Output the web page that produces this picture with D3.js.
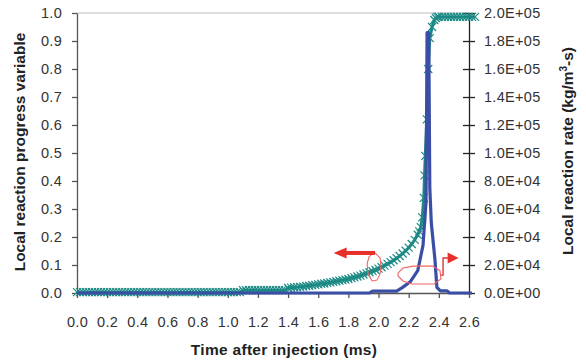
<!DOCTYPE html>
<html>
<head>
<meta charset="utf-8">
<script src="https://cdn.jsdelivr.net/npm/d3@7"></script>
<style>
  body { margin: 0; background: #fff; }
  text { font-family: "Liberation Sans", Arial, sans-serif; }
</style>
</head>
<body>
<script>
// progress variable samples (time in ms)
const progTime = [
  0.00,0.02,0.04,0.06,0.08,0.10,0.12,0.14,0.16,0.18,0.20,0.22,0.24,0.26,0.28,0.30,0.32,0.34,0.36,0.38,
  0.40,0.42,0.44,0.46,0.48,0.50,0.52,0.54,0.56,0.58,0.60,0.62,0.64,0.66,0.68,0.70,0.72,0.74,0.76,0.78,
  0.80,0.82,0.84,0.86,0.88,0.90,0.92,0.94,0.96,0.98,1.00,1.02,1.04,1.06,1.08,1.10,1.12,1.14,1.16,1.18,
  1.20,1.22,1.24,1.26,1.28,1.30,1.32,1.34,1.36,1.38,1.40,1.42,1.44,1.46,1.48,1.50,1.52,1.54,1.56,1.58,
  1.60,1.62,1.64,1.66,1.68,1.70,1.72,1.74,1.76,1.78,1.80,1.82,1.84,1.86,1.88,1.90,1.92,1.94,1.96,1.98,
  2.00,2.02,2.04,2.06,2.08,2.10,2.12,2.14,2.16,2.18,2.20,2.22,2.24,2.26,2.27,2.28,2.29,2.30,2.305,2.31,
  2.32,2.33,2.34,2.355,2.37,2.38,2.39,2.40,2.42,2.44,2.46,2.48,2.50,2.52,2.54,2.56,2.58,2.60,2.62,2.64
];
const progress = [
  0.003,0.003,0.003,0.003,0.003,0.003,0.003,0.003,0.003,0.003,0.003,0.003,0.003,0.003,0.003,0.003,0.003,0.003,0.003,0.003,
  0.003,0.003,0.003,0.003,0.003,0.003,0.003,0.003,0.003,0.003,0.003,0.003,0.003,0.003,0.003,0.003,0.003,0.003,0.003,0.003,
  0.003,0.003,0.003,0.003,0.003,0.003,0.003,0.003,0.003,0.003,0.003,0.003,0.003,0.003,0.003,0.010,0.010,0.010,0.010,0.010,
  0.010,0.010,0.010,0.010,0.010,0.010,0.010,0.010,0.010,0.010,0.018,0.019,0.020,0.021,0.022,0.023,0.025,0.026,0.028,0.029,
  0.031,0.033,0.034,0.036,0.038,0.040,0.042,0.044,0.046,0.048,0.050,0.053,0.056,0.059,0.062,0.066,0.070,0.074,0.078,0.082,
  0.087,0.092,0.098,0.104,0.110,0.117,0.124,0.132,0.141,0.151,0.162,0.175,0.190,0.208,0.220,0.235,0.270,0.340,0.420,0.490,
  0.620,0.800,0.910,0.950,0.975,0.982,0.986,0.986,0.986,0.986,0.986,0.986,0.986,0.986,0.986,0.986,0.986,0.986,0.986,0.986
];

// reaction rate samples (kg/m3-s)
const rateTime = [0.00,1.94,1.96,2.12,2.16,2.21,2.26,2.295,2.315,2.322,2.333,2.34,2.35,2.374,2.387,2.41,2.455,2.47,2.62];
const rate     = [0,0,1400,1400,4000,8000,16000,34000,65000,186000,186000,75000,50000,24000,4000,1500,1500,0,0];

const xTicks = [0.0,0.2,0.4,0.6,0.8,1.0,1.2,1.4,1.6,1.8,2.0,2.2,2.4,2.6];
const yLeftTicks = [0.0,0.1,0.2,0.3,0.4,0.5,0.6,0.7,0.8,0.9,1.0];
const yRightTicks = [0,20000,40000,60000,80000,100000,120000,140000,160000,180000,200000];

// red annotation outlines (time, progress units)
const leftLoop = [[1.977,0.143],[2.010,0.125],[2.016,0.096],[2.010,0.068],[1.990,0.046],[1.957,0.043],[1.931,0.068],[1.924,0.104],[1.937,0.129],[1.957,0.139],[1.977,0.143]];
const rightLoop = [[2.129,0.071],[2.162,0.089],[2.229,0.096],[2.361,0.096],[2.408,0.079],[2.414,0.050],[2.368,0.032],[2.222,0.032],[2.162,0.043],[2.129,0.061],[2.129,0.071]];
const leftArrow = [[1.977,0.143],[1.775,0.143]];
const rightArrow = [[2.414,0.064],[2.428,0.064],[2.428,0.125],[2.465,0.125]];

const width = 586, height = 361;
const svg = d3.select("body").append("svg").attr("width", width).attr("height", height);

const x = d3.scaleLinear().domain([0, 2.6]).range([77, 469]);
const yL = d3.scaleLinear().domain([0, 1]).range([293, 13]);
const yR = d3.scaleLinear().domain([0, 200000]).range([293, 13]);

const sciFmt = d => {
  const [m, e] = d.toExponential(1).split("e");
  const n = Math.abs(+e);
  return m + "E" + (+e < 0 ? "-" : "+") + (n < 10 ? "0" + n : n);
};

// top border
svg.append("line").attr("x1", 77).attr("x2", 469).attr("y1", 13).attr("y2", 13)
  .attr("stroke", "#bbb").attr("stroke-width", 1.2);

// axes
const gx = svg.append("g").attr("transform", "translate(0,293)")
  .call(d3.axisBottom(x).tickValues(xTicks).tickFormat(d3.format(".1f")).tickSize(5).tickPadding(19).tickSizeOuter(0));
const gl = svg.append("g").attr("transform", "translate(77,0)")
  .call(d3.axisLeft(yL).tickValues(yLeftTicks).tickFormat(d3.format(".1f")).tickSize(5).tickPadding(10).tickSizeOuter(0));
const gr = svg.append("g").attr("transform", "translate(469,0)")
  .call(d3.axisRight(yR).tickValues(yRightTicks).tickFormat(sciFmt).tickSize(5).tickPadding(10).tickSizeOuter(0));
gr.selectAll(".tick line").attr("x1", -6).attr("x2", 6);

[gx, gl, gr].forEach(g => {
  g.selectAll("text").attr("font-size", 14.5).attr("fill", "#333")
    .style("letter-spacing", "0.3px")
    .style("font-family", "'Liberation Sans', Arial, sans-serif");
  g.selectAll("line, path").attr("stroke", "#555").attr("stroke-width", 1.3);
});
gr.selectAll("line, path").attr("stroke", "#222");

// progress variable
const progData = progTime.map((t, i) => [t, progress[i]]);
const rateData = rateTime.map((t, i) => [t, rate[i]]);

svg.append("path").datum(progData)
  .attr("fill", "none").attr("stroke", "#1b8a84").attr("stroke-width", 3)
  .attr("d", d3.line().x(d => x(d[0])).y(d => yL(d[1])));

const s = 4;
svg.append("g").selectAll("path").data(progData).join("path")
  .attr("transform", d => `translate(${x(d[0])},${yL(d[1])})`)
  .attr("d", `M${-s},${-s}L${s},${s}M${-s},${s}L${s},${-s}`)
  .attr("stroke", "#1b8a84").attr("stroke-width", 1.2).attr("fill", "none");

// reaction rate
svg.append("path").datum(rateData)
  .attr("fill", "none").attr("stroke", "#3a4ea6").attr("stroke-width", 3.2)
  .attr("stroke-linejoin", "round")
  .attr("d", d3.line().x(d => x(d[0])).y(d => yR(d[1])));

// annotations
const line = d3.line().x(d => x(d[0])).y(d => yL(d[1]));
svg.append("path").datum(leftLoop).attr("d", line)
  .attr("fill", "none").attr("stroke", "#f06464").attr("stroke-width", 1.1);
svg.append("path").datum(rightLoop).attr("d", line)
  .attr("fill", "none").attr("stroke", "#f06464").attr("stroke-width", 1.1);
svg.append("path").datum(leftArrow).attr("d", line)
  .attr("fill", "none").attr("stroke", "#e8302a").attr("stroke-width", 4);
svg.append("path").datum(rightArrow).attr("d", line)
  .attr("fill", "none").attr("stroke", "#e8302a").attr("stroke-width", 1.4);

const la = leftArrow[1], ra = rightArrow[3];
svg.append("path")
  .attr("d", `M${x(la[0]) + 2},${yL(la[1]) - 5.5}L${x(la[0]) - 11},${yL(la[1])}L${x(la[0]) + 2},${yL(la[1]) + 5.5}Z`)
  .attr("fill", "#e8302a");
svg.append("path")
  .attr("d", `M${x(ra[0]) - 1},${yL(ra[1]) - 5.5}L${x(ra[0]) + 10},${yL(ra[1])}L${x(ra[0]) - 1},${yL(ra[1]) + 5.5}Z`)
  .attr("fill", "#e8302a");

// titles
const titleSize = 15.5;
svg.append("text").attr("x", 284).attr("y", 355).attr("text-anchor", "middle")
  .attr("font-size", titleSize).attr("font-weight", "bold").attr("fill", "#222")
  .style("letter-spacing", "0.3px")
  .text("Time after injection (ms)");
svg.append("text").attr("transform", "translate(25,152) rotate(-90)").attr("text-anchor", "middle")
  .attr("font-size", titleSize).attr("font-weight", "bold").attr("fill", "#222")
  .text("Local reaction progress variable");
const rt = svg.append("text").attr("transform", "translate(573,151) rotate(-90)").attr("text-anchor", "middle")
  .attr("font-size", titleSize).attr("font-weight", "bold").attr("fill", "#222");
rt.append("tspan").text("Local reaction rate (kg/m");
rt.append("tspan").attr("font-size", 10).attr("dy", -6).text("3");
rt.append("tspan").attr("dy", 6).text("-s)");
</script>
</body>
</html>
